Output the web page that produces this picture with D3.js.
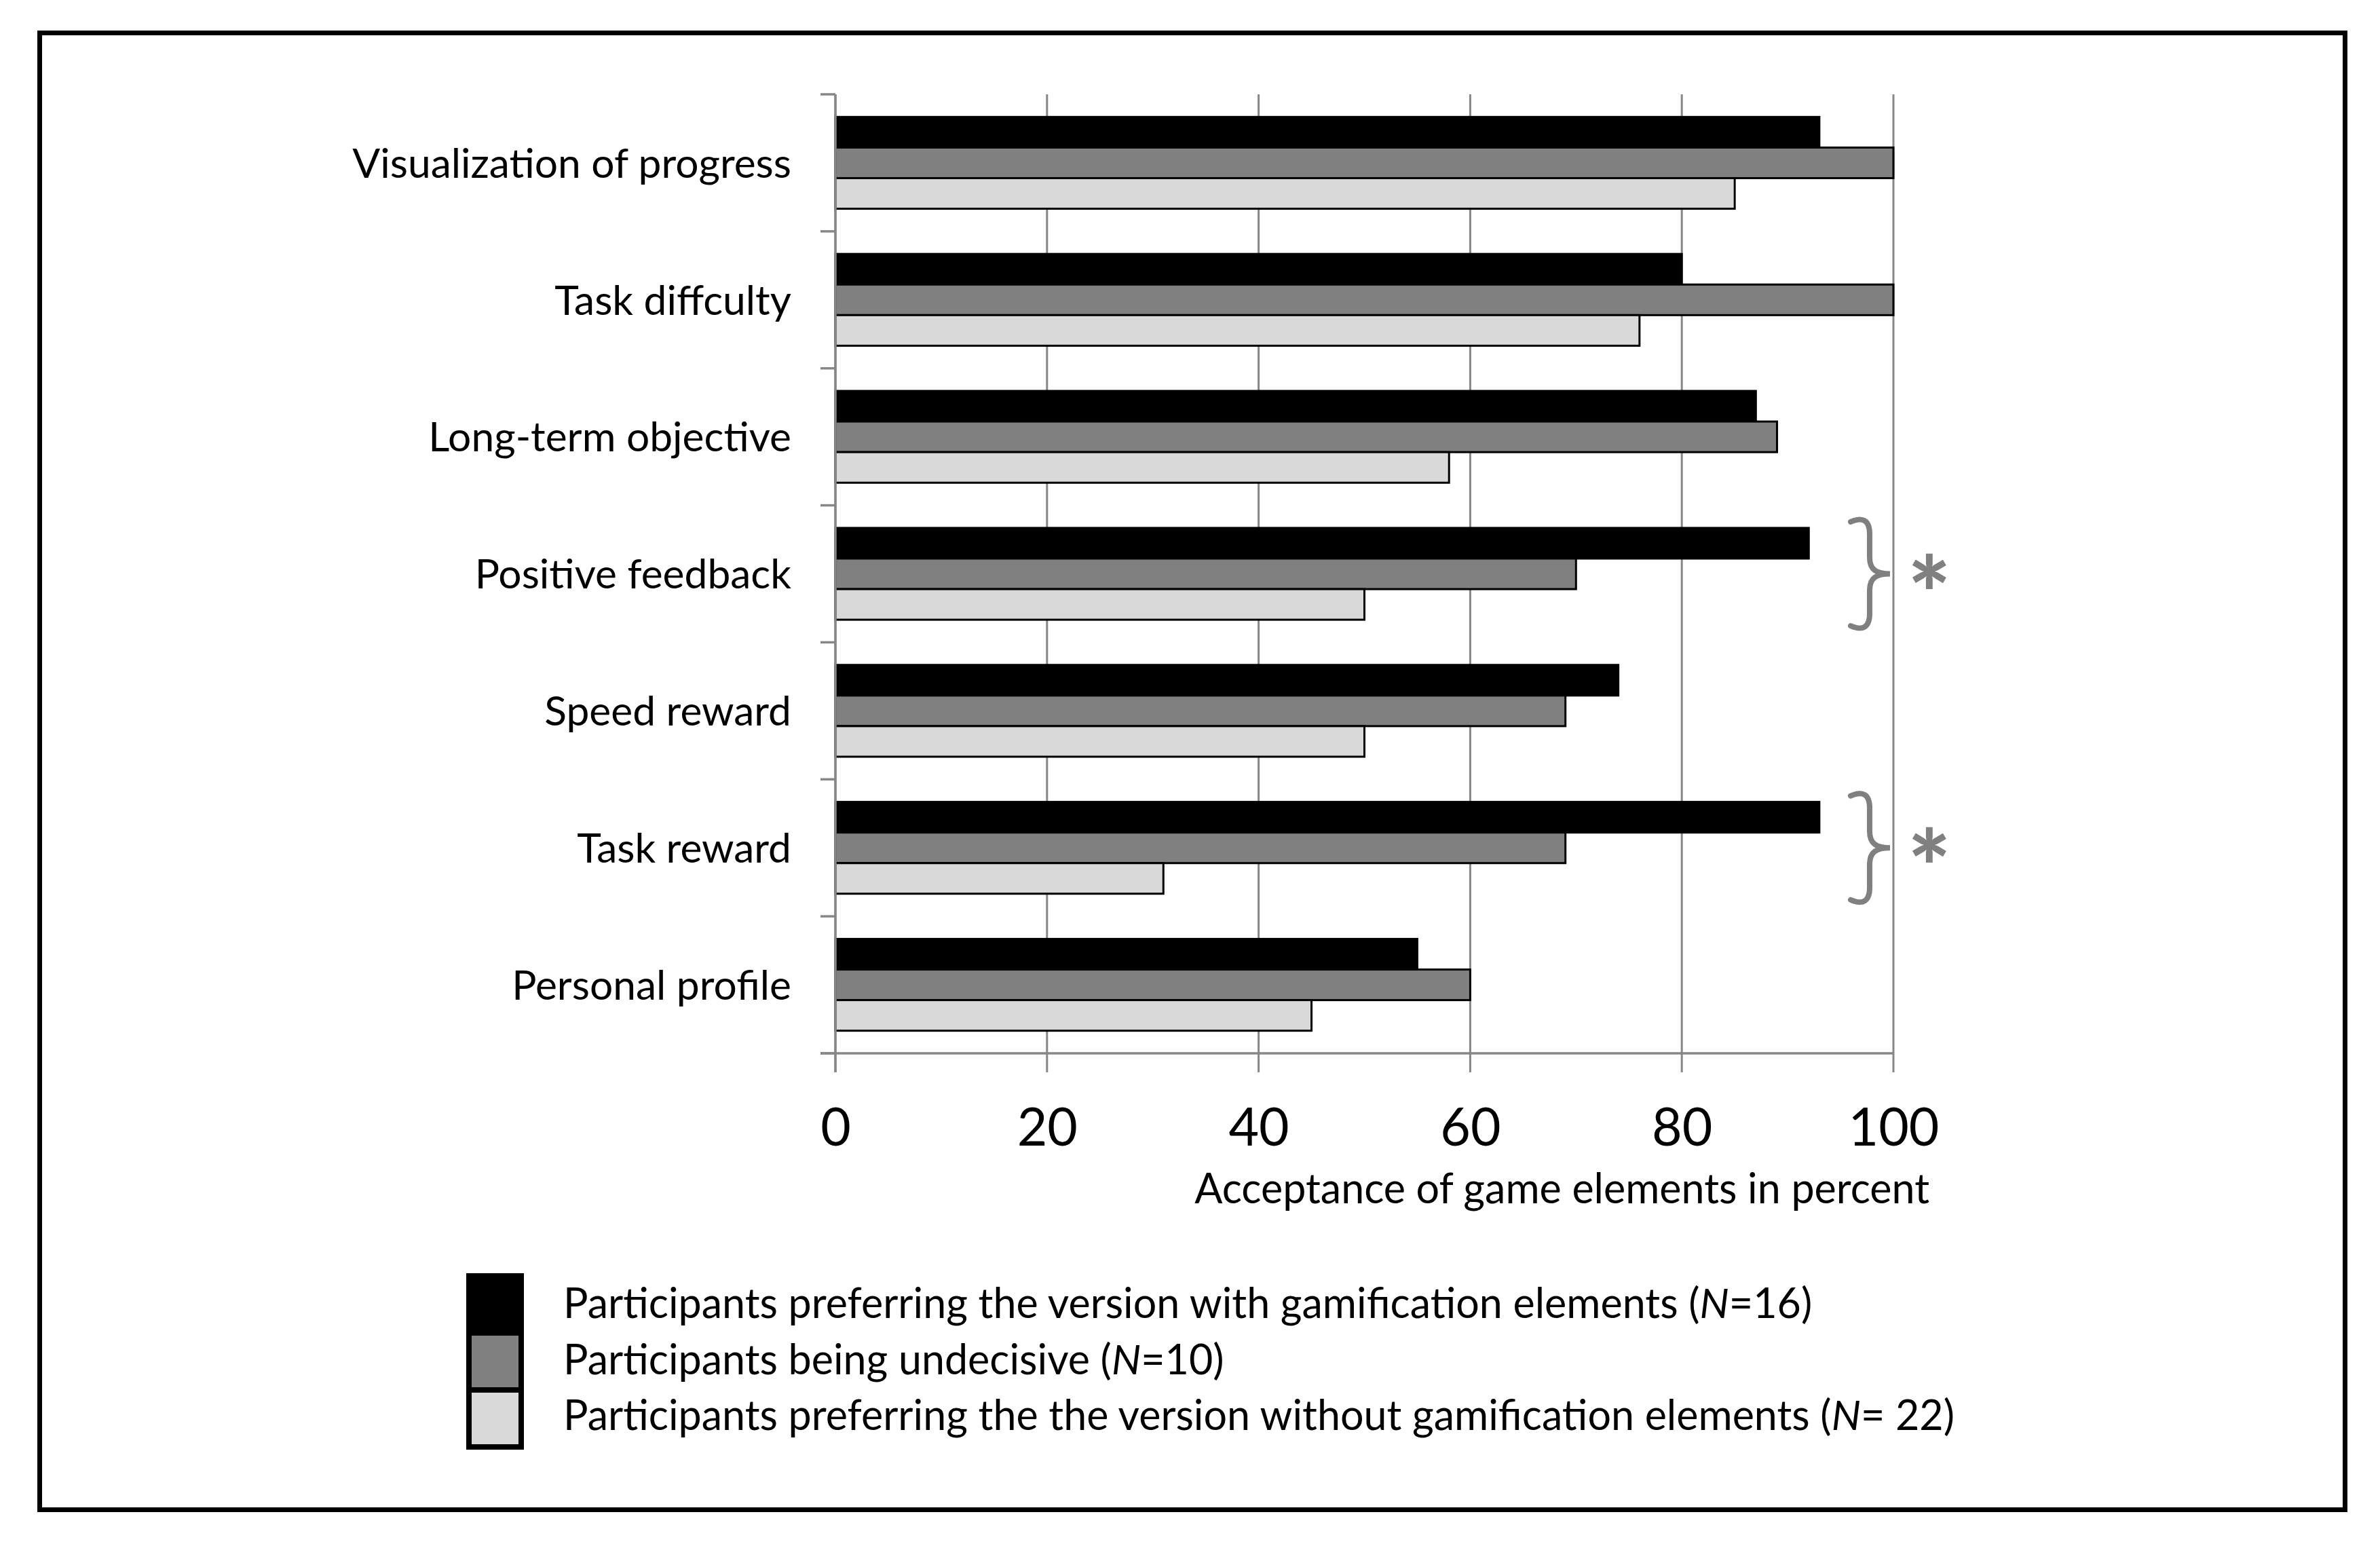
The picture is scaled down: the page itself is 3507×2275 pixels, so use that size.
<!DOCTYPE html>
<html>
  <head>
    <meta charset="utf-8">
    <title>Acceptance of game elements</title>
    <script src="https://cdn.jsdelivr.net/npm/d3@7"></script>
    <style>
      body { margin: 0; background: #fff; }
      svg { display: block; font-family: Lato, "Open Sans", sans-serif; }
    </style>
  </head>

  <body>
    <svg id="chart" width="3507" height="2275"></svg>

    <script>
      // data
      const categories = ["Visualization of progress", "Task diffculty", "Long-term objective",
        "Positive feedback", "Speed reward", "Task reward", "Personal profile"];
      const withGame = [93, 80, 87, 92, 74, 93, 55];
      const undecided = [100, 100, 89, 70, 69, 69, 60];
      const withoutGame = [85, 76, 58, 50, 50, 31, 45];
      const seriesKeys = ["withGame", "undecided", "withoutGame"];
      const seriesColours = ["#000000", "#808080", "#d9d9d9"];
      const legendLabels = [
        ["Participants preferring the version with gamification elements (", "N", "=16)"],
        ["Participants being undecisive (", "N", "=10)"],
        ["Participants preferring the the version without gamification elements (", "N", "= 22)"]
      ];
      const xTicks = [0, 20, 40, 60, 80, 100];
      const significant = ["Positive feedback", "Task reward"];
      const axisTitle = "Acceptance of game elements in percent";

      const rows = categories.map((c, i) => ({
        category: c,
        withGame: withGame[i],
        undecided: undecided[i],
        withoutGame: withoutGame[i]
      }));

      // elements
      const svg = d3.select("#chart");
      const grey = "#878787";

      // frame
      svg.append("rect")
        .attr("x", 58.5)
        .attr("y", 48.5)
        .attr("width", 3397)
        .attr("height", 2176)
        .style("fill", "none")
        .style("stroke", "#000")
        .style("stroke-width", 7);

      // scales
      const plotTop = 139, plotBottom = 1552;
      const x = d3.scaleLinear().domain([0, 100]).range([1231, 2790]);
      const y = d3.scaleBand().domain(categories).range([plotTop, plotBottom])
        .paddingInner(0.33).paddingOuter(0.165);
      const ySeries = d3.scaleBand().domain(seriesKeys).range([0, y.bandwidth()]);
      const colour = d3.scaleOrdinal().domain(seriesKeys).range(seriesColours);
      const step = y.step();

      // gridlines
      svg.append("g")
        .selectAll("line")
        .data(xTicks)
        .join("line")
          .attr("x1", d => x(d))
          .attr("x2", d => x(d))
          .attr("y1", plotTop)
          .attr("y2", 1580)
          .style("stroke", grey)
          .style("stroke-width", 3);

      // category ticks on the left
      svg.append("g")
        .selectAll("line")
        .data(d3.range(categories.length + 1))
        .join("line")
          .attr("x1", 1209)
          .attr("x2", x(0))
          .attr("y1", d => plotTop + d * step)
          .attr("y2", d => plotTop + d * step)
          .style("stroke", grey)
          .style("stroke-width", 3.5);

      // bars
      svg.append("g")
        .selectAll("g")
        .data(rows)
        .join("g")
          .attr("transform", d => `translate(0,${y(d.category)})`)
        .selectAll("rect")
        .data(d => seriesKeys.map(k => ({ key: k, value: d[k] })))
        .join("rect")
          .attr("x", x(0))
          .attr("y", d => ySeries(d.key))
          .attr("width", d => x(d.value) - x(0))
          .attr("height", ySeries.bandwidth())
          .style("fill", d => colour(d.key))
          .style("stroke", "#000")
          .style("stroke-width", 3);

      // axes lines
      svg.append("line")
        .attr("x1", x(0)).attr("x2", x(0))
        .attr("y1", plotTop).attr("y2", 1580)
        .style("stroke", grey).style("stroke-width", 3.5);
      svg.append("line")
        .attr("x1", 1209).attr("x2", x(100))
        .attr("y1", plotBottom).attr("y2", plotBottom)
        .style("stroke", grey).style("stroke-width", 3.5);

      // x tick labels
      const xAxis = svg.append("g")
        .attr("transform", `translate(0,${plotBottom})`)
        .call(d3.axisBottom(x).tickValues(xTicks).tickSize(0).tickPadding(136));
      xAxis.select(".domain").remove();
      xAxis.selectAll("text")
        .attr("dy", null)
        .style("font-family", "Lato")
        .style("font-size", "77px")
        .style("fill", "#000");

      svg.append("text")
        .attr("x", 2843)
        .attr("y", 1773)
        .attr("text-anchor", "end")
        .style("font-size", "61px")
        .text(axisTitle);

      // category labels
      const labelSize = 60.5;
      svg.append("g")
        .selectAll("text")
        .data(categories)
        .join("text")
          .attr("x", 1166)
          .attr("y", d => y(d) + y.bandwidth() / 2 + labelSize * 0.36)
          .attr("text-anchor", "end")
          .style("font-size", labelSize + "px")
          .text(d => d);

      // significance brackets
      const brace = svg.append("g");
      significant.forEach(c => {
        const y0 = y(c) - 15, y1 = y(c) + y.bandwidth() + 15, yc = (y0 + y1) / 2;
        const p = d3.path();
        p.moveTo(2727, y0 + 6);
        p.bezierCurveTo(2745, y0 - 2, 2755, y0 + 4, 2755, y0 + 24);
        p.lineTo(2755, yc - 24);
        p.bezierCurveTo(2755, yc - 6, 2765, yc, 2785, yc);
        p.bezierCurveTo(2765, yc, 2755, yc + 6, 2755, yc + 24);
        p.lineTo(2755, y1 - 24);
        p.bezierCurveTo(2755, y1 - 4, 2745, y1 + 2, 2727, y1 - 6);
        brace.append("path")
          .attr("d", p.toString())
          .style("fill", "none")
          .style("stroke", "#808080")
          .style("stroke-width", 8)
          .style("stroke-linecap", "round");
        brace.append("text")
          .attr("x", 2843)
          .attr("y", yc + 84)
          .attr("text-anchor", "middle")
          .style("font-size", "150px")
          .style("font-weight", "900")
          .style("fill", "#808080")
          .text("*");
      });

      // legend
      const legend = svg.append("g");
      legend.selectAll("rect")
        .data(seriesKeys)
        .join("rect")
          .attr("x", 691)
          .attr("y", (d, i) => 1880 + i * 84)
          .attr("width", 77)
          .attr("height", 84)
          .style("fill", d => colour(d))
          .style("stroke", "#000")
          .style("stroke-width", 8);
      legend.selectAll("text")
        .data(legendLabels)
        .join("text")
          .attr("x", 830)
          .attr("y", (d, i) => 1942 + i * 82.5)
          .style("font-size", "61px")
          .each(function(d) {
            const t = d3.select(this);
            t.append("tspan").text(d[0]);
            t.append("tspan").style("font-style", "italic").text(d[1]);
            t.append("tspan").text(d[2]);
          });
    </script>
  </body>
</html>
